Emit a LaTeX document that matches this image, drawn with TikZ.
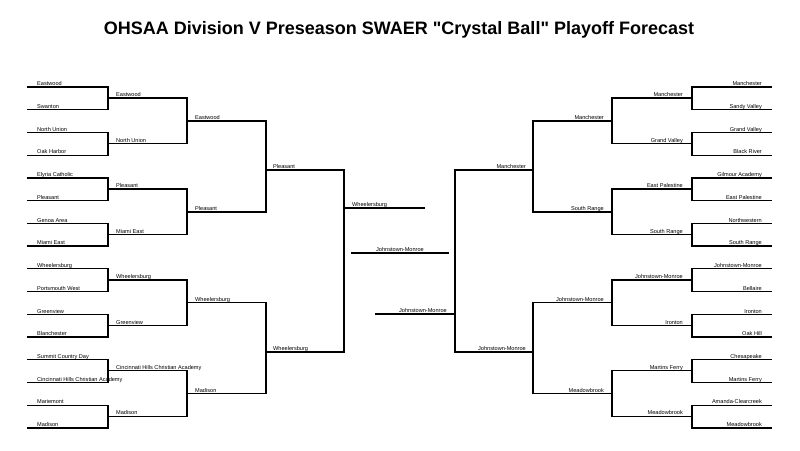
\documentclass[tikz,border=0pt]{standalone}
\usepackage{fontspec}
\setmainfont{Liberation Sans}[Ligatures=TeXOff]
\begin{document}
\begin{tikzpicture}[x=1pt,y=-1pt,
  bl/.style={line width=1.3pt,line cap=rect},
  lbl/.style={inner sep=0pt,font=\fontsize{5.6}{6}\selectfont},
  ttl/.style={inner sep=0pt,font=\fontsize{18}{20}\selectfont\bfseries}]
\useasboundingbox (0,0) rectangle (800,450);
\node[ttl] (title) at (399,30) {OHSAA Division V Preseason SWAER "Crystal Ball" Playoff Forecast};
% ---------- left side ----------
\foreach \t [count=\i] in {Eastwood,Swanton,North Union,Oak Harbor,Elyria Catholic,Pleasant,Genoa Area,Miami East,Wheelersburg,Portsmouth West,Greenview,Blanchester,Summit Country Day,Cincinnati Hills Christian Academy,Mariemont,Madison}{
  \pgfmathsetmacro\yy{87+(\i-1)*22.73}
  \coordinate (LAa\i) at (28,\yy); \coordinate (LAb\i) at (108,\yy);
  \draw[bl] (LAa\i) -- (LAb\i);
  \node[lbl,anchor=base west] (LAt\i) at (37,\yy-1.3) {\t};
}
\foreach \t [count=\i] in {Eastwood,North Union,Pleasant,Miami East,Wheelersburg,Greenview,Cincinnati Hills Christian Academy,Madison}{
  \pgfmathsetmacro\yy{98+(\i-1)*45.47}
  \coordinate (LBa\i) at (108,\yy); \coordinate (LBb\i) at (187,\yy);
  \draw[bl] (LBa\i) -- (LBb\i);
  \node[lbl,anchor=base west] (LBt\i) at (116,\yy-1.3) {\t};
}
\foreach \t [count=\i] in {Eastwood,Pleasant,Wheelersburg,Madison}{
  \pgfmathsetmacro\yy{121+(\i-1)*90.9}
  \coordinate (LCa\i) at (187,\yy); \coordinate (LCb\i) at (266,\yy);
  \draw[bl] (LCa\i) -- (LCb\i);
  \node[lbl,anchor=base west] (LCt\i) at (195,\yy-1.3) {\t};
}
\coordinate (LDa1) at (266,170); \coordinate (LDb1) at (344,170);
\coordinate (LDa2) at (266,352); \coordinate (LDb2) at (344,352);
\draw[bl] (LDa1) -- (LDb1);
\draw[bl] (LDa2) -- (LDb2);
\node[lbl,anchor=base west] (LDt1) at (273,168.7) {Pleasant};
\node[lbl,anchor=base west] (LDt2) at (273,350.7) {Wheelersburg};
\coordinate (LEa) at (344,208); \coordinate (LEb) at (424,208);
\draw[bl] (LEa) -- (LEb);
\node[lbl,anchor=base west] (LEt) at (352,206.7) {Wheelersburg};
% left verticals
\foreach \i in {1,3,...,15}{\pgfmathtruncatemacro\j{\i+1}\draw[bl] (LAb\i) -- (LAb\j);}
\foreach \i in {1,3,5,7}{\pgfmathtruncatemacro\j{\i+1}\draw[bl] (LBb\i) -- (LBb\j);}
\draw[bl] (LCb1) -- (LCb2);
\draw[bl] (LCb3) -- (LCb4);
\draw[bl] (LDb1) -- (LDb2);
% ---------- centre ----------
\coordinate (CAa) at (352,253); \coordinate (CAb) at (448,253);
\draw[bl] (CAa) -- (CAb);
\node[lbl,anchor=base] (CAt) at (400,251.7) {Johnstown-Monroe};
\coordinate (CBa) at (376,314); \coordinate (CBb) at (455,314);
\draw[bl] (CBa) -- (CBb);
\node[lbl,anchor=base east] (CBt) at (447,312.7) {Johnstown-Monroe};
% ---------- right side ----------
\foreach \t [count=\i] in {Manchester,Sandy Valley,Grand Valley,Black River,Gilmour Academy,East Palestine,Northwestern,South Range,Johnstown-Monroe,Bellaire,Ironton,Oak Hill,Chesapeake,Martins Ferry,Amanda-Clearcreek,Meadowbrook}{
  \pgfmathsetmacro\yy{87+(\i-1)*22.73}
  \coordinate (RAa\i) at (692,\yy); \coordinate (RAb\i) at (771,\yy);
  \draw[bl] (RAa\i) -- (RAb\i);
  \node[lbl,anchor=base east] (RAt\i) at (762,\yy-1.3) {\t};
}
\foreach \t [count=\i] in {Manchester,Grand Valley,East Palestine,South Range,Johnstown-Monroe,Ironton,Martins Ferry,Meadowbrook}{
  \pgfmathsetmacro\yy{98+(\i-1)*45.47}
  \coordinate (RBa\i) at (612,\yy); \coordinate (RBb\i) at (692,\yy);
  \draw[bl] (RBa\i) -- (RBb\i);
  \node[lbl,anchor=base east] (RBt\i) at (683,\yy-1.3) {\t};
}
\foreach \t [count=\i] in {Manchester,South Range,Johnstown-Monroe,Meadowbrook}{
  \pgfmathsetmacro\yy{121+(\i-1)*90.9}
  \coordinate (RCa\i) at (533,\yy); \coordinate (RCb\i) at (612,\yy);
  \draw[bl] (RCa\i) -- (RCb\i);
  \node[lbl,anchor=base east] (RCt\i) at (604,\yy-1.3) {\t};
}
\coordinate (RDa1) at (455,170); \coordinate (RDb1) at (533,170);
\coordinate (RDa2) at (455,352); \coordinate (RDb2) at (533,352);
\draw[bl] (RDa1) -- (RDb1);
\draw[bl] (RDa2) -- (RDb2);
\node[lbl,anchor=base east] (RDt1) at (526,168.7) {Manchester};
\node[lbl,anchor=base east] (RDt2) at (526,350.7) {Johnstown-Monroe};
% right verticals
\foreach \i in {1,3,...,15}{\pgfmathtruncatemacro\j{\i+1}\draw[bl] (RAa\i) -- (RAa\j);}
\foreach \i in {1,3,5,7}{\pgfmathtruncatemacro\j{\i+1}\draw[bl] (RBa\i) -- (RBa\j);}
\draw[bl] (RCa1) -- (RCa2);
\draw[bl] (RCa3) -- (RCa4);
\draw[bl] (RDa1) -- (RDa2);
\end{tikzpicture}
\end{document}
